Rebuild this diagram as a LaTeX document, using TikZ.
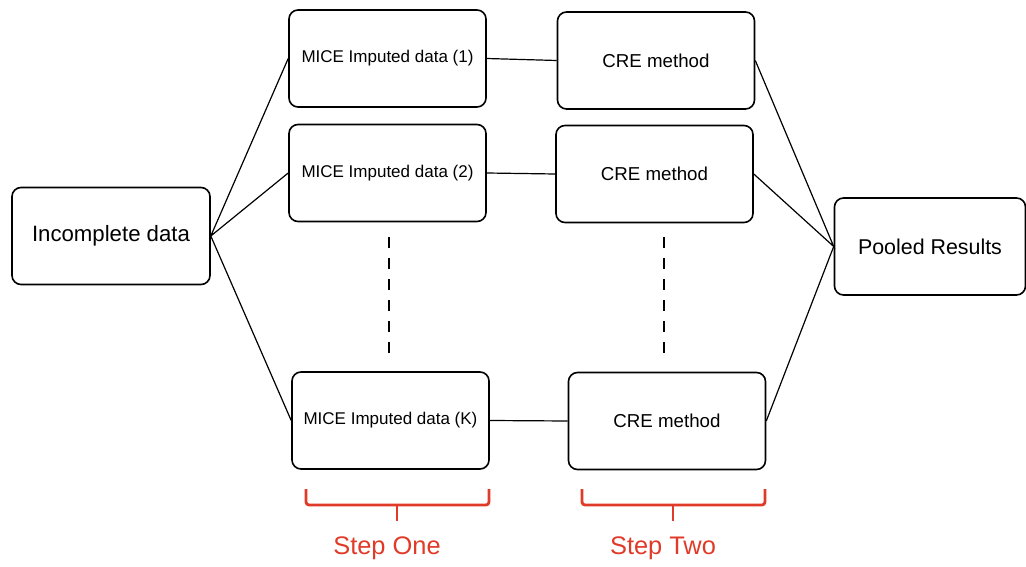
\documentclass[tikz,border=0pt]{standalone}
\usepackage{fontspec}
\setmainfont{Liberation Sans}

\definecolor{stepred}{RGB}{224,58,40}

\begin{document}
\begin{tikzpicture}[x=1pt, y=-1pt,
            boxNode/.style={draw, line width=1.6pt, rounded corners=9pt, minimum width=197pt, minimum height=97pt, inner sep=0pt},
            stepBrace/.style={draw=stepred, line width=2.8pt, rounded corners=3pt},
            stepLabel/.style={text=stepred, font=\fontsize{25.4}{30}\selectfont},
            link/.style={line width=1.2pt},
            gapLine/.style={line width=2.6pt, dash pattern=on 11pt off 10pt}]

            \useasboundingbox (0,0) rectangle (1026,567);

            % input and output
            \node [boxNode, minimum width=198pt, font=\fontsize{22.2}{26}\selectfont] (incomplete) at (111,236) {Incomplete data};
            \node [boxNode, minimum width=191pt, font=\fontsize{21.4}{25}\selectfont] (pooled) at (930,246.5) {Pooled Results};

            % step one: imputed data sets
            \node [boxNode, font=\fontsize{17}{20}\selectfont] (mice1) at (387.5,58.5) {MICE Imputed data (1)};
            \node [boxNode, font=\fontsize{17}{20}\selectfont] (mice2) at (387.5,173) {MICE Imputed data (2)};
            \node [boxNode, font=\fontsize{17}{20}\selectfont] (miceK) at (390.5,420.5) {MICE Imputed data (K)};

            % step two: analysis on each set
            \node [boxNode, font=\fontsize{18.7}{22}\selectfont] (cre1) at (656,60.5) {CRE method};
            \node [boxNode, font=\fontsize{18.7}{22}\selectfont] (cre2) at (654.5,174) {CRE method};
            \node [boxNode, font=\fontsize{18.7}{22}\selectfont] (creK) at (667,421) {CRE method};

            \draw[link] (mice1.west) -- (incomplete.east) -- (mice2.west);
            \draw[link] (incomplete.east) -- (miceK.west);
            \draw[link] (mice1.east) -- (cre1.west);
            \draw[link] (mice2.east) -- (cre2.west);
            \draw[link] (miceK.east) -- (creK.west);
            \draw[link] (cre1.east) -- (pooled.west) -- (cre2.east);
            \draw[link] (pooled.west) -- (creK.east);

            % the sets in between
            \coordinate (gapA) at (389,237);
            \coordinate (gapB) at (389,357);
            \coordinate (gapC) at (664,237);
            \coordinate (gapD) at (664,357);
            \draw[gapLine] (gapA) -- (gapB);
            \draw[gapLine] (gapC) -- (gapD);

            % braces under the two steps
            \draw[stepBrace] (306,489) -- (306,505) -- (489,505) -- (489,489);
            \draw[stepBrace] (397,505) -- (397,521);
            \draw[stepBrace] (582,489) -- (582,505) -- (765,505) -- (765,489);
            \draw[stepBrace] (673,505) -- (673,521);

            \node [stepLabel] (stepOne) at (387,548) {Step One};
            \node [stepLabel] (stepTwo) at (663,548) {Step Two};
        \end{tikzpicture}
\end{document}
